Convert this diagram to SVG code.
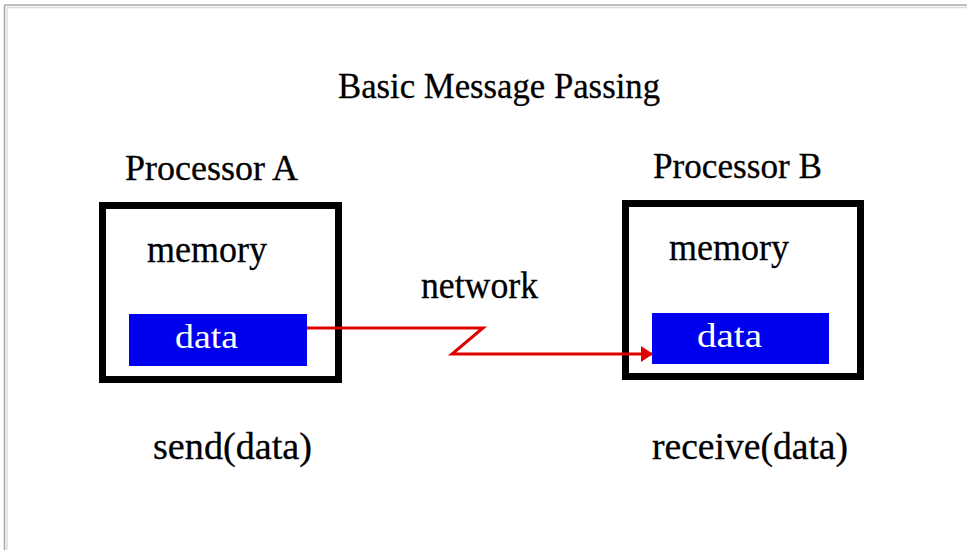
<svg xmlns="http://www.w3.org/2000/svg" width="967" height="550" viewBox="0 0 967 550">
<style>
.t{font-family:"Liberation Serif","Times New Roman",serif;fill:#000;font-size:35px;stroke:#000;stroke-width:0.3}
.w{font-family:"Liberation Serif","Times New Roman",serif;fill:#fff;font-size:33px}
.proc{fill:none;stroke:#000;stroke-width:7}
.data{fill:#0000f0}
.wire{fill:none;stroke:#e00000;stroke-width:3}
</style>
<defs>
<marker id="ah" markerUnits="userSpaceOnUse" markerWidth="12" markerHeight="16" refX="11" refY="8" orient="auto">
<path d="M0,0 L12,8 L0,16 Z" fill="#e00000"/>
</marker>
</defs>
<rect width="967" height="550" fill="#fff"/>
<g id="frame">
<line x1="4.5" y1="5" x2="967" y2="5" stroke="#a8a8a8" stroke-width="1.5"/>
<line x1="6.5" y1="7.5" x2="967" y2="7.5" stroke="#dcdcdc" stroke-width="1.5"/>
<line x1="4.5" y1="5" x2="4.5" y2="550" stroke="#a8a8a8" stroke-width="1.5"/>
<line x1="7" y1="7.5" x2="7" y2="550" stroke="#dcdcdc" stroke-width="1.5"/>
</g>
<g id="title"><text class="t" x="338" y="98" textLength="322" lengthAdjust="spacingAndGlyphs">Basic Message Passing</text></g>
<g id="processorA">
<text class="t" x="125" y="180" textLength="173" lengthAdjust="spacingAndGlyphs">Processor A</text>
<rect class="proc" x="102.5" y="205.5" width="236" height="174"/>
<text class="t" x="147" y="262" textLength="120" lengthAdjust="spacingAndGlyphs" style="font-size:38px">memory</text>
</g>
<g id="dataA">
<rect class="data" x="129" y="314" width="178" height="52"/>
<text class="w" x="175" y="348" textLength="63" lengthAdjust="spacingAndGlyphs">data</text>
</g>
<g id="processorB">
<text class="t" x="653" y="178" textLength="169" lengthAdjust="spacingAndGlyphs">Processor B</text>
<rect class="proc" x="625.5" y="203.5" width="235" height="173"/>
<text class="t" x="669" y="260" textLength="120" lengthAdjust="spacingAndGlyphs" style="font-size:38px">memory</text>
</g>
<g id="dataB">
<rect class="data" x="652" y="313" width="177" height="51"/>
<text class="w" x="697" y="347" textLength="65" lengthAdjust="spacingAndGlyphs">data</text>
</g>
<g id="connectors">
<path class="wire" d="M307,328 L483,328 L452,354 L652,354" marker-end="url(#ah)"/>
</g>
<g id="labels">
<text class="t" x="421" y="298" textLength="117" lengthAdjust="spacingAndGlyphs" style="font-size:37px">network</text>
<text class="t" x="153" y="459" textLength="159" lengthAdjust="spacingAndGlyphs" style="font-size:37px">send(data)</text>
<text class="t" x="652" y="459" textLength="196" lengthAdjust="spacingAndGlyphs" style="font-size:37px">receive(data)</text>
</g>
</svg>
